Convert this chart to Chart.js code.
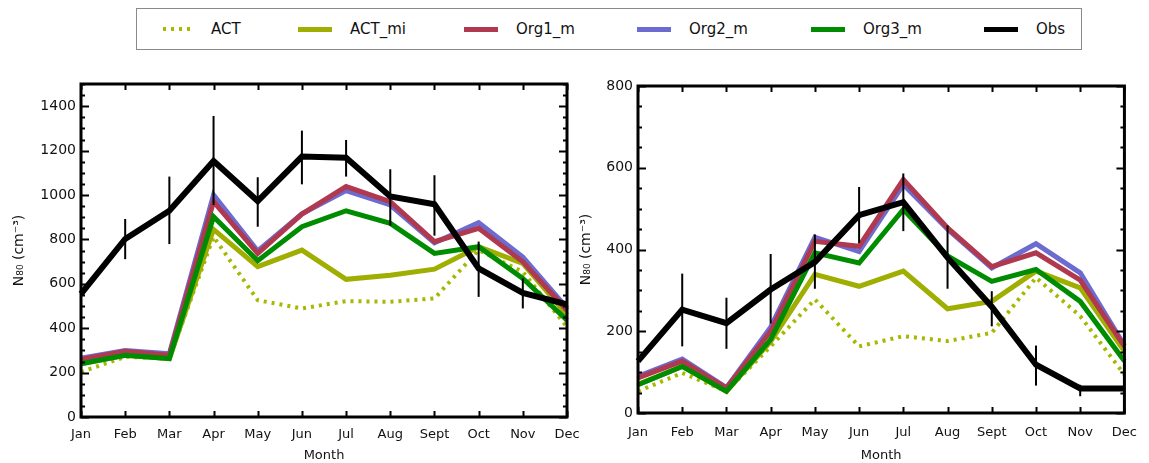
<!DOCTYPE html>
<html>
<head>
<meta charset="utf-8">
<script src="https://cdn.jsdelivr.net/npm/chart.js@4.4.1/dist/chart.umd.min.js"></script>
<style>
body { margin: 0; background: #fff; width: 1149px; height: 463px; overflow: hidden; position: relative; font-family: "DejaVu Sans", sans-serif; }
#legend { position: absolute; left: 136px; top: 8px; width: 946px; height: 42px; border: 1px solid #8a8a8a; box-sizing: border-box; }
.item { position: absolute; top: 0; height: 40px; display: flex; align-items: center; font-size: 15px; color: #111; }
.sw { width: 34px; height: 5px; margin-right: 18px; }
canvas { position: absolute; top: 0; }
</style>
</head>
<body>
<div id="legend">
  <div class="item" style="left:26px"><div class="sw" style="width:30px;height:4px;background:repeating-linear-gradient(90deg,#a6b800 0 3px,transparent 3px 8px)"></div>ACT</div>
  <div class="item" style="left:161px"><div class="sw" style="background:#9fae00"></div>ACT_mi</div>
  <div class="item" style="left:327px"><div class="sw" style="background:#b0394f"></div>Org1_m</div>
  <div class="item" style="left:500px"><div class="sw" style="background:#6b6bd0"></div>Org2_m</div>
  <div class="item" style="left:674px"><div class="sw" style="background:#008c00"></div>Org3_m</div>
  <div class="item" style="left:847px"><div class="sw" style="background:#000"></div>Obs</div>
</div>
<canvas id="left" width="600" height="463" style="left:0;width:600px;height:463px"></canvas>
<canvas id="right" width="574" height="463" style="left:575px;width:574px;height:463px"></canvas>
<script>
const months = ['Jan', 'Feb', 'Mar', 'Apr', 'May', 'Jun', 'Jul', 'Aug', 'Sept', 'Oct', 'Nov', 'Dec'];

// left panel
const leftACT   = [203, 271, 263, 812, 526, 489, 522, 519, 534, 752, 654, 406];
const leftACTmi = [240, 278, 263, 845, 677, 752, 620, 639, 666, 767, 692, 460];
const leftOrg1  = [259, 296, 278, 970, 737, 914, 1038, 970, 790, 850, 699, 481];
const leftOrg2  = [265, 300, 285, 1000, 748, 915, 1020, 955, 785, 875, 720, 490];
const leftOrg3  = [240, 278, 263, 902, 704, 857, 929, 872, 737, 767, 624, 436];
const leftObs   = [555, 802, 929, 1153, 973, 1173, 1168, 993, 958, 669, 559, 507];
const leftObsLo = [null, 711, 779, 955, 857, 1048, 1083, 862, 817, 541, 489, null];
const leftObsHi = [null, 892, 1083, 1356, 1080, 1290, 1248, 1116, 1089, 790, 624, null];

// right panel
const rightACT   = [53, 98, 53, 163, 278, 163, 188, 176, 196, 331, 237, 94];
const rightACTmi = [70, 114, 53, 175, 339, 310, 347, 255, 273, 347, 306, 151];
const rightOrg1  = [86, 127, 61, 200, 420, 408, 571, 453, 358, 392, 325, 163];
const rightOrg2  = [90, 132, 62, 210, 430, 395, 559, 450, 355, 414, 343, 165];
const rightOrg3  = [69, 114, 53, 180, 392, 367, 498, 384, 322, 351, 273, 127];
const rightObs   = [127, 253, 220, 302, 369, 484, 516, 380, 260, 118, 60, 60];
const rightObsLo = [null, 163, 157, 219, 304, 416, 445, 304, 212, 67, 41, null];
const rightObsHi = [null, 341, 282, 389, 437, 553, 586, 459, 298, 165, 69, null];

const yTitle = 'N\u2088\u2080 (cm\u207B\u00B3)';

// error bars, inward ticks and the box frame
const framePlugin = {
  id: 'frame',
  afterDatasetsDraw(chart, args, opts) {
    const ctx = chart.ctx;
    const a = chart.chartArea;
    const x = chart.scales.x;
    const y = chart.scales.y;
    ctx.save();
    ctx.strokeStyle = '#000';
    ctx.lineWidth = 2;
    opts.lo.forEach((lo, i) => {
      const hi = opts.hi[i];
      if (lo == null) return;
      const px = x.getPixelForValue(i);
      ctx.beginPath();
      ctx.moveTo(px, y.getPixelForValue(lo));
      ctx.lineTo(px, y.getPixelForValue(hi));
      ctx.stroke();
    });
    for (let v = 0; v <= y.max; v += 50) {
      const py = Math.round(y.getPixelForValue(v)) + 0.5;
      const len = v % 200 === 0 ? 8 : 4;
      ctx.beginPath();
      ctx.moveTo(a.left, py); ctx.lineTo(a.left + len, py);
      ctx.moveTo(a.right, py); ctx.lineTo(a.right - len, py);
      ctx.stroke();
    }
    months.forEach((m, i) => {
      const px = Math.round(x.getPixelForValue(i)) + 0.5;
      ctx.beginPath();
      ctx.moveTo(px, a.bottom); ctx.lineTo(px, a.bottom - 6);
      ctx.moveTo(px, a.top); ctx.lineTo(px, a.top + 6);
      ctx.stroke();
    });
    ctx.lineWidth = 3;
    ctx.strokeRect(a.left, a.top, a.width, a.height);
    ctx.restore();
  }
};

function line(label, data, color, width, order, dash) {
  return {
    label: label,
    data: data,
    borderColor: color,
    borderWidth: width,
    borderDash: dash || [],
    pointRadius: 0,
    tension: 0,
    fill: false,
    order: order
  };
}

function makeChart(id, sets, yMax, pad, yWidth, xHeight, titlePad, tickPad) {
  const ctx = document.getElementById(id);
  return new Chart(ctx, {
    type: 'line',
    data: {
      labels: months,
      datasets: [
        line('Obs', sets.obs, '#000', 6, 0),
        line('Org3_m', sets.org3, '#008c00', 5, 1),
        line('Org1_m', sets.org1, '#b0394f', 5, 2),
        line('Org2_m', sets.org2, '#6b6bd0', 5, 3),
        line('ACT_mi', sets.actmi, '#9fae00', 5, 4),
        line('ACT', sets.act, '#a6b800', 4, 5, [3, 5])
      ]
    },
    options: {
      responsive: false,
      animation: false,
      layout: { padding: pad },
      plugins: {
        legend: { display: false },
        tooltip: { enabled: false },
        frame: { lo: sets.lo, hi: sets.hi }
      },
      scales: {
        x: {
          grid: { display: false, drawTicks: false },
          border: { display: false },
          ticks: { color: '#111', font: { family: 'DejaVu Sans', size: 13 }, padding: tickPad, maxRotation: 0, autoSkip: false },
          title: { display: true, text: 'Month', color: '#111', font: { family: 'DejaVu Sans', size: 13 }, padding: { top: 2, bottom: 0 } },
          afterFit: s => { s.height = xHeight; }
        },
        y: {
          min: 0,
          max: yMax,
          grid: { display: false, drawTicks: false },
          border: { display: false },
          ticks: { stepSize: 200, includeBounds: false, color: '#111', font: { family: 'DejaVu Sans', size: 14 }, padding: 5, callback: v => String(v) },
          title: { display: true, text: yTitle, color: '#111', font: { family: 'DejaVu Sans', size: 14 }, padding: { top: titlePad, bottom: 0 } },
          afterFit: s => { s.width = yWidth; }
        }
      }
    },
    plugins: [framePlugin]
  });
}

makeChart('left', {
  act: leftACT, actmi: leftACTmi, org1: leftOrg1, org2: leftOrg2, org3: leftOrg3,
  obs: leftObs, lo: leftObsLo, hi: leftObsHi
}, 1500, { top: 84, right: 33, left: 0, bottom: 0 }, 81, 46, 11, 10);

makeChart('right', {
  act: rightACT, actmi: rightACTmi, org1: rightOrg1, org2: rightOrg2, org3: rightOrg3,
  obs: rightObs, lo: rightObsLo, hi: rightObsHi
}, 800, { top: 86, right: 24, left: 0, bottom: 0 }, 63, 50, 3, 12);
</script>
</body>
</html>
